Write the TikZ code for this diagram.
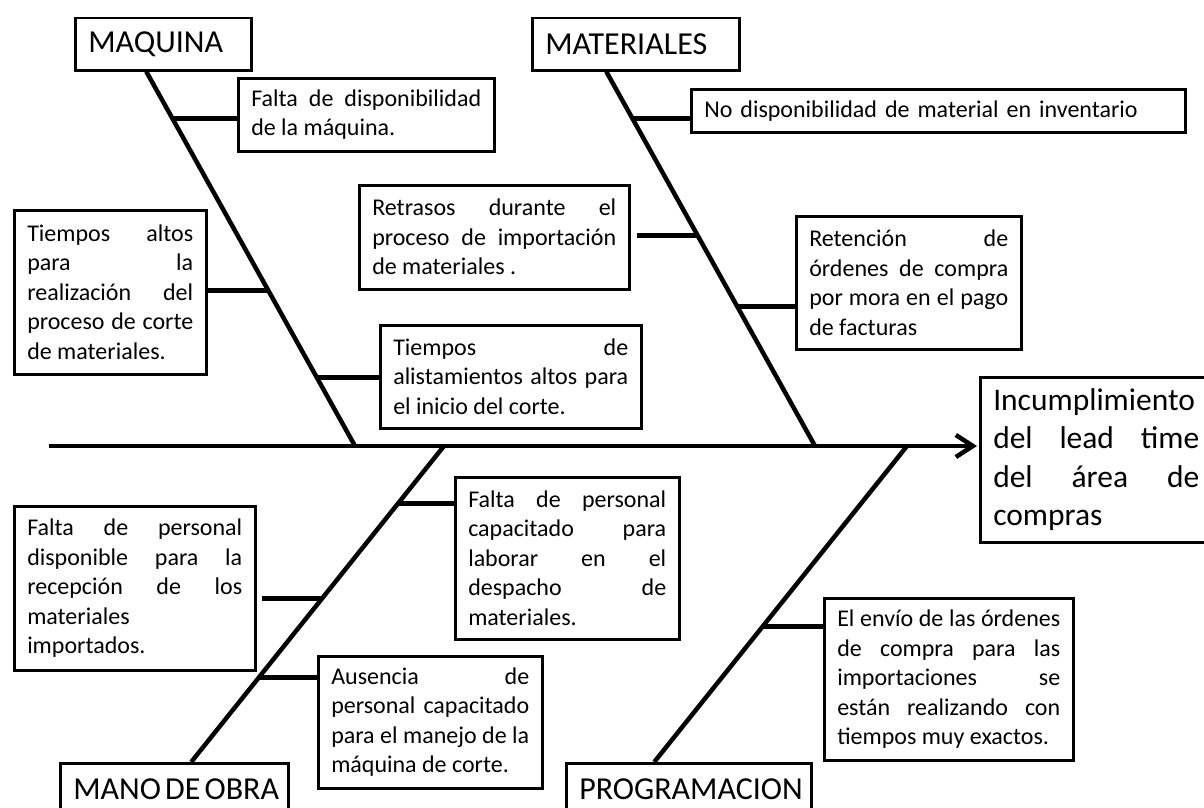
\documentclass[tikz,border=0pt]{standalone}
\usepackage{fontspec}
\setmainfont{Carlito}
\usetikzlibrary{arrows.meta}

\begin{document}
\begin{tikzpicture}[x=1pt, y=-1pt,
    cause/.style={draw, line width=2.5pt, anchor=north west, align=justify,
                  inner xsep=13pt, inner ysep=0pt,
                  font=\fontsize{24}{29.5}\selectfont},
    category/.style={draw, line width=2.5pt, anchor=north west, align=left,
                     inner xsep=13pt, inner ysep=0pt, minimum height=52pt,
                     font=\fontsize{32}{38}\selectfont,
                     execute at begin node={\spaceskip=.13em plus .05em\relax}},
    bone/.style={line width=4.5pt},
    branch/.style={line width=5pt}]
\clip (0,0) rectangle (1204,808);

\node[category, text width=150pt] (maq) at (74,17) {MAQUINA};
\node[category, text width=181pt] (mat) at (531,17) {MATERIALES};
\node[category, text width=202pt] (mano) at (59,762) {\mbox{MANO DE OBRA}};
\node[category, text width=219pt] (prog) at (565,762) {\mbox{PROGRAMACION}};

\node[cause, text width=230pt, minimum height=73pt] (c11) at (237,77)
    {Falta de disponibilidad\break
     de la máquina.};
\node[cause, text width=166pt, minimum height=164pt] (c12) at (13,209)
    {Tiempos altos\break
     para la\break
     realización del\break
     proceso de corte\break
     de materiales.};
\node[cause, text width=235pt, minimum height=103pt] (c13) at (379,324)
    {Tiempos de\break
     alistamientos altos para\break
     el inicio del corte.};

\node[cause, align=left, text width=468pt, minimum height=43pt] (c21) at (690,88)
    {No disponibilidad de material en inventario};
\node[cause, text width=244pt, minimum height=104pt] (c22) at (358,184)
    {Retrasos durante el\break
     proceso de importación\break
     de materiales .};
\node[cause, text width=199pt, minimum height=133pt] (c23) at (795,215)
    {Retención de\break
     órdenes de compra\break
     por mora en el pago\break
     de facturas};

\node[cause, text width=215pt, minimum height=164pt] (c31) at (13,505)
    {Falta de personal\break
     disponible para la\break
     recepción de los\break
     materiales\hfill\break
     importados.};
\node[cause, text width=198pt, minimum height=162pt] (c32) at (454,476)
    {Falta de personal\break
     capacitado para\break
     laborar en el\break
     despacho de\break
     materiales.};
\node[cause, text width=198pt, minimum height=132pt] (c33) at (317,655)
    {Ausencia de\break
     personal capacitado\break
     para el manejo de la\break
     máquina de corte.};

\node[cause, text width=223pt, minimum height=162pt] (c41) at (823,597)
    {El envío de las órdenes\break
     de compra para las\break
     importaciones se\break
     están realizando con\break
     tiempos muy exactos.};

\node[cause, text width=206pt, minimum height=165pt,
      font=\fontsize{31.5}{38.5}\selectfont] (effect) at (979,376)
    {Incumplimiento\break
     del lead time\break
     del área de\break
     compras};

\coordinate (tail) at (49,446);
\coordinate (s1) at (355,446);
\coordinate (s2) at (815,446);
\coordinate (s3) at (444,446);
\coordinate (s4) at (907,446);

\draw[bone, shorten >=2pt, -{Straight Barb[length=17pt, width=22pt]}]
    (tail) -- (tail -| effect.west);

\draw[bone] ([xshift=-17pt]maq.south) -- (s1)
    coordinate[pos=0.126] (m1) coordinate[pos=0.586] (m2) coordinate[pos=0.817] (m3);
\draw[branch] (m1) -- (m1 -| c11.west);
\draw[branch] (m2) -- (m2 -| c12.east);
\draw[branch] (m3) -- (m3 -| c13.west);

\draw[bone] ([xshift=-29.5pt]mat.south) -- (s2)
    coordinate[pos=0.126] (t1) coordinate[pos=0.439] (t2) coordinate[pos=0.628] (t3);
\draw[branch] (t1) -- (t1 -| c21.west);
\draw[branch, shorten >=6pt] (t2) -- (t2 -| c22.east);
\draw[branch] (t3) -- (t3 -| c23.west);

\draw[bone] (s3) -- ([xshift=17pt]mano.north)
    coordinate[pos=0.181] (o1) coordinate[pos=0.481] (o2) coordinate[pos=0.732] (o3);
\draw[branch] (o1) -- (o1 -| c32.west);
\draw[branch, shorten >=5pt] (o2) -- (o2 -| c31.east);
\draw[branch] (o3) -- (o3 -| c33.west);

\draw[bone] (s4) -- ([xshift=-34.5pt]prog.north) coordinate[pos=0.572] (p1);
\draw[branch] (p1) -- (p1 -| c41.west);
\end{tikzpicture}
\end{document}
